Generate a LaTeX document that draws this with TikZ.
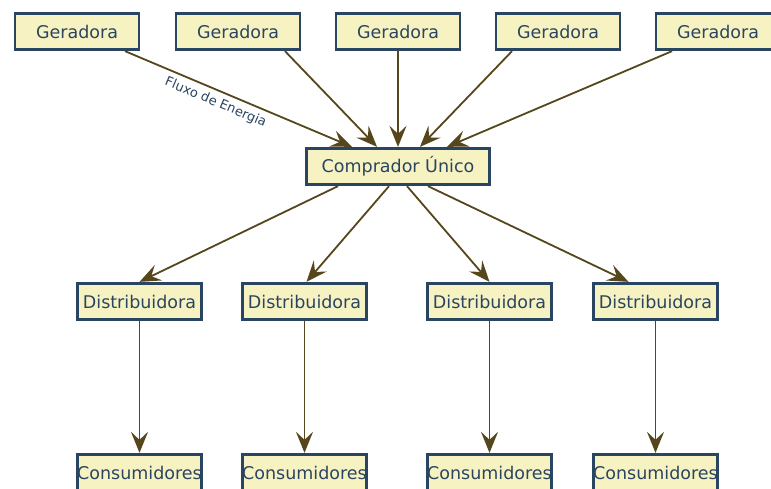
\documentclass[tikz,border=0pt]{standalone}
\usepackage{fontspec}
\setmainfont{DejaVu Sans}
\usetikzlibrary{arrows.meta}
\definecolor{boxfill}{HTML}{F7F2C1}
\definecolor{boxline}{HTML}{2A4561}
\definecolor{flow}{HTML}{56461B}
\tikzset{
  unit/.style={draw=boxline, line width=2.8pt, fill=boxfill, text=boxline,
    font=\fontsize{17.5}{19}\selectfont, minimum width=124pt, minimum height=36.5pt,
    inner sep=0pt, anchor=center},
  wide/.style={unit, minimum width=183pt},
  flowline/.style={draw=flow, line width=1.8pt,
    -{Stealth[length=21pt, width=17pt, inset=8pt]}},
  flowlabel/.style={font=\fontsize{13}{15}\selectfont, text=boxline, sloped,
    below, inner sep=5pt}
}
\begin{document}
\begin{tikzpicture}[x=1pt, y=-1pt]
\clip (0,0) rectangle (771,488);
\fill[white] (0,0) rectangle (771,488);

% generators
\node[unit] (g1) at (77,31.5) {Geradora};
\node[unit] (g2) at (238,31.5) {Geradora};
\node[unit] (g3) at (398,31.5) {Geradora};
\node[unit] (g4) at (558,31.5) {Geradora};
\node[unit] (g5) at (718,31.5) {Geradora};

% single buyer
\node[wide] (cu) at (398,166.5) {Comprador Único};

% distributors
\node[unit] (d1) at (139.5,301.5) {Distribuidora};
\node[unit] (d2) at (304.5,301.5) {Distribuidora};
\node[unit] (d3) at (489.5,301.5) {Distribuidora};
\node[unit] (d4) at (655.5,301.5) {Distribuidora};

% consumers
\node[unit] (c1) at (139.5,472.5) {Consumidores};
\node[unit] (c2) at (304.5,472.5) {Consumidores};
\node[unit] (c3) at (489.5,472.5) {Consumidores};
\node[unit] (c4) at (655.5,472.5) {Consumidores};

% generation into the single buyer
\draw[flowline] ([xshift=48pt]g1.south) -- node[flowlabel, pos=0.42] {Fluxo de Energia} ([xshift=-46pt]cu.north);
\draw[flowline] ([xshift=47pt]g2.south) -- ([xshift=-21pt]cu.north);
\draw[flowline] (g3.south) -- (cu.north);
\draw[flowline] ([xshift=-46pt]g4.south) -- ([xshift=22pt]cu.north);
\draw[flowline] ([xshift=-46pt]g5.south) -- ([xshift=49pt]cu.north);

% single buyer to distributors
\draw[flowline] ([xshift=-60pt]cu.south) -- (d1.north);
\draw[flowline] ([xshift=-9pt]cu.south) -- ([xshift=2pt]d2.north);
\draw[flowline] ([xshift=9pt]cu.south) -- (d3.north);
\draw[flowline] ([xshift=30pt]cu.south) -- ([xshift=-27pt]d4.north);

% distributors to consumers
\draw[flowline] (d1.south) -- (c1.north);
\draw[flowline] (d2.south) -- (c2.north);
\draw[flowline] (d3.south) -- (c3.north);
\draw[flowline] (d4.south) -- (c4.north);
\end{tikzpicture}
\end{document}
